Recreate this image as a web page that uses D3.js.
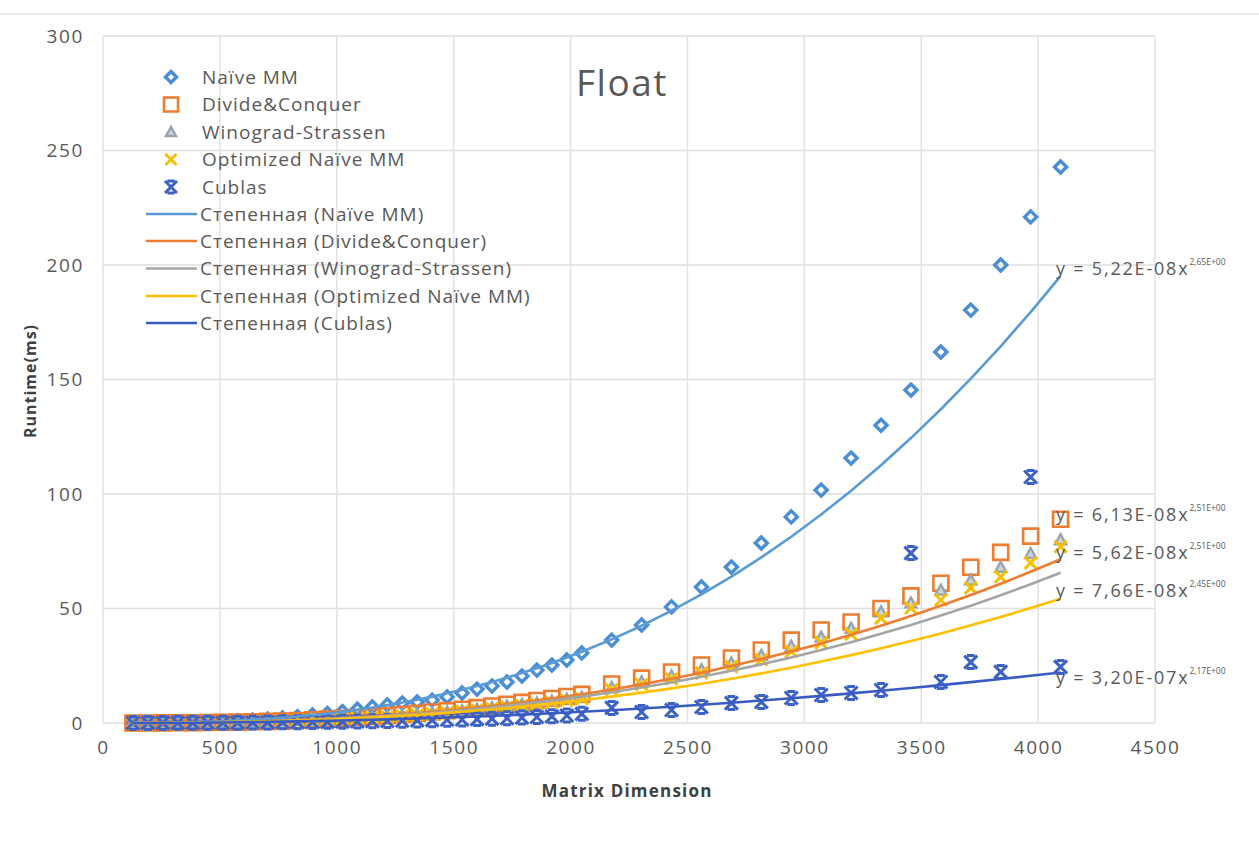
<!DOCTYPE html>
<html>
<head>
<meta charset="utf-8">
<script src="https://cdn.jsdelivr.net/npm/d3@7"></script>
<style>
  html, body { margin: 0; padding: 0; background: #ffffff; }
  svg { display: block; font-family: "Open Sans", "Noto Sans", sans-serif; }
</style>
</head>
<body>
<svg id="chart" width="1259" height="844"></svg>
<script>
// Matrix dimensions (step 64 up to 2048, then step 128)
const dims = [128, 192, 256, 320, 384, 448, 512, 576, 640, 704, 768, 832, 896, 960, 1024,
  1088, 1152, 1216, 1280, 1344, 1408, 1472, 1536, 1600, 1664, 1728, 1792, 1856, 1920, 1984, 2048,
  2176, 2304, 2432, 2560, 2688, 2816, 2944, 3072, 3200, 3328, 3456, 3584, 3712, 3840, 3968, 4096];

// Runtime in ms for each algorithm
const naiveMM = [0.02, 0.05, 0.1, 0.18, 0.3, 0.48, 0.7, 0.95, 1.3, 1.7, 2.2, 2.8, 3.5, 4.2, 5.0,
  6.0, 7.0, 7.9, 8.7, 9.2, 10.0, 11.4, 13.1, 14.8, 16.2, 17.9, 20.5, 23.1, 25.3, 27.5, 30.6,
  36.2, 42.8, 50.7, 59.4, 68.1, 78.6, 90.0, 101.7, 115.7, 130.0, 145.4, 162.0, 180.3, 200.0, 221.0, 242.8];
const divideConquer = [0.01, 0.03, 0.05, 0.09, 0.14, 0.2, 0.3, 0.4, 0.55, 0.7, 0.9, 1.1, 1.4, 1.7, 2.0,
  2.4, 2.8, 3.2, 3.7, 4.2, 4.8, 5.4, 6.0, 6.7, 7.4, 8.2, 9.0, 9.8, 10.7, 11.6, 12.5,
  17.0, 19.6, 22.3, 25.3, 28.4, 31.9, 36.2, 40.6, 44.1, 50.0, 55.5, 61.0, 68.0, 74.5, 81.6, 89.0];
const winogradStrassen = [0.01, 0.02, 0.04, 0.08, 0.12, 0.18, 0.27, 0.36, 0.5, 0.63, 0.8, 1.0, 1.25, 1.5, 1.8,
  2.15, 2.5, 2.9, 3.35, 3.8, 4.3, 4.85, 5.4, 6.0, 6.7, 7.4, 8.1, 8.8, 9.6, 10.4, 11.2,
  15.5, 18.0, 20.5, 23.3, 26.2, 29.5, 33.5, 37.5, 41.3, 48.5, 52.4, 58.0, 62.4, 68.0, 74.0, 80.0];
const optimizedNaive = [0.01, 0.02, 0.04, 0.07, 0.11, 0.16, 0.24, 0.33, 0.45, 0.58, 0.74, 0.92, 1.15, 1.4, 1.68,
  2.0, 2.35, 2.72, 3.15, 3.6, 4.05, 4.55, 5.1, 5.7, 6.3, 6.95, 7.6, 8.3, 9.05, 9.8, 10.6,
  14.5, 16.8, 19.2, 21.8, 24.6, 27.6, 31.2, 35.0, 38.8, 45.8, 50.2, 53.7, 59.0, 63.8, 69.9, 77.0];
const cublas = [0.02, 0.03, 0.04, 0.06, 0.08, 0.1, 0.13, 0.16, 0.2, 0.25, 0.3, 0.36, 0.43, 0.5, 0.58,
  0.67, 0.77, 0.88, 1.0, 1.12, 1.25, 1.4, 1.55, 1.7, 1.9, 2.1, 2.35, 2.6, 2.9, 3.3, 4.0,
  6.6, 4.8, 5.7, 7.0, 8.7, 9.2, 10.9, 12.2, 13.1, 14.4, 74.2, 17.9, 26.6, 22.3, 107.4, 24.5];

// Power trendline coefficients y = a * x^b
const trendA = [5.22e-8, 6.13e-8, 5.62e-8, 7.66e-8, 3.20e-7];
const trendB = [2.65, 2.51, 2.51, 2.45, 2.17];
const trendText = ["5,22E-08", "6,13E-08", "5,62E-08", "7,66E-08", "3,20E-07"];
const trendExpText = ["2,65E+00", "2,51E+00", "2,51E+00", "2,45E+00", "2,17E+00"];

const seriesNames = ["Naïve MM", "Divide&Conquer", "Winograd-Strassen", "Optimized Naïve MM", "Cublas"];
const trendNames = ["Степенная (Naïve MM)", "Степенная (Divide&Conquer)", "Степенная (Winograd-Strassen)",
  "Степенная (Optimized Naïve MM)", "Степенная (Cublas)"];

const xTicks = [0, 500, 1000, 1500, 2000, 2500, 3000, 3500, 4000, 4500];
const yTicks = [0, 50, 100, 150, 200, 250, 300];

const markerColors = ["#4A8ED6", "#ED7D31", "#9AA3AE", "#F5C000", "#3D62C6"];
const trendColors = ["#5B9BD5", "#ED7D31", "#A5A5A5", "#FFC000", "#3A5CC2"];

const values = [naiveMM, divideConquer, winogradStrassen, optimizedNaive, cublas];
const shapes = ["diamond", "square", "triangle", "x", "star"];

const svg = d3.select("#chart");
const x = d3.scaleLinear().domain([0, 4500]).range([103, 1155]);
const y = d3.scaleLinear().domain([0, 300]).range([723, 36]);

// faint outer frame of the chart area
svg.append("line").attr("x1", 0).attr("x2", 1259).attr("y1", 14).attr("y2", 14)
  .attr("stroke", "#e4e4e4").attr("stroke-width", 1.5);

// gridlines
const grid = svg.append("g");
grid.selectAll("line.h").data(yTicks).join("line")
  .attr("x1", x(0)).attr("x2", x(4500))
  .attr("y1", d => y(d)).attr("y2", d => y(d))
  .attr("stroke", "#dedede").attr("stroke-width", 1.5);
grid.selectAll("line.v").data(xTicks).join("line")
  .attr("y1", y(0)).attr("y2", y(300))
  .attr("x1", d => x(d)).attr("x2", d => x(d))
  .attr("stroke", "#e3e3e3").attr("stroke-width", 1.5);

// axes (labels only, no domain lines)
const xAxis = svg.append("g").attr("transform", `translate(0,${y(0) + 14})`)
  .call(d3.axisBottom(x).tickValues(xTicks).tickSize(0).tickFormat(d3.format("d")));
const yAxis = svg.append("g").attr("transform", `translate(${x(0) - 16},0)`)
  .call(d3.axisLeft(y).tickValues(yTicks).tickSize(0).tickFormat(d3.format("d")));
[xAxis, yAxis].forEach(g => {
  g.select(".domain").remove();
  g.selectAll("text").attr("fill", "#595959").style("font-size", "19px")
    .style("letter-spacing", "1.6px")
    .style("font-family", "'Open Sans', sans-serif");
});

// marker symbol paths
function markerPath(shape, s) {
  const h = s / 2;
  switch (shape) {
    case "diamond": return `M0,${-h}L${h},0L0,${h}L${-h},0Z`;
    case "square": return `M${-h},${-h}H${h}V${h}H${-h}Z`;
    case "triangle": return `M0,${-h}L${h},${h * 0.8}H${-h}Z`;
    case "x": return `M${-h},${-h}L${h},${h}M${h},${-h}L${-h},${h}`;
    case "star": return `M${-h},${-h}L${h},${h}M${h},${-h}L${-h},${h}M${-h * 0.6},${-h}H${h * 0.6}M${-h * 0.6},${h}H${h * 0.6}`;
  }
}
const markerSize = [12, 15, 11, 12, 13];
const markerStroke = [3.4, 2.6, 2.4, 3, 3];

const plot = svg.append("g");
values.forEach((vals, i) => {
  const g = plot.append("g");
  g.selectAll("path").data(dims.map((d, k) => [d, vals[k]])).join("path")
    .attr("transform", d => `translate(${x(d[0])},${y(d[1])})`)
    .attr("d", markerPath(shapes[i], markerSize[i]))
    .attr("fill", shapes[i] === "triangle" ? "#c9d3de" : "none")
    .attr("stroke", markerColors[i])
    .attr("stroke-width", markerStroke[i])
    .attr("stroke-linejoin", "miter");
});

// power trendlines evaluated from the fitted coefficients
const line = d3.line().x(d => x(d[0])).y(d => y(d[1]));
trendA.forEach((a, i) => {
  const pts = dims.map(d => [d, a * Math.pow(d, trendB[i])]);
  plot.append("path").datum(pts)
    .attr("d", line)
    .attr("fill", "none")
    .attr("stroke", trendColors[i])
    .attr("stroke-width", 2.6);
});

// trendline equations
const eqY = [275, 521, 559, 597, 684];
trendA.forEach((a, i) => {
  const t = svg.append("text")
    .attr("x", 1056).attr("y", eqY[i])
    .attr("fill", "#595959")
    .style("font-size", "18px").style("letter-spacing", "1.8px");
  t.append("tspan").text(`y = ${trendText[i]}x`);
  t.append("tspan").attr("dy", -10).style("font-size", "8.5px").style("letter-spacing", "0px")
    .text(trendExpText[i]);
});

// title
svg.append("text").attr("x", 622).attr("y", 96)
  .attr("text-anchor", "middle").attr("fill", "#595959")
  .style("font-size", "37px").style("letter-spacing", "1.5px").text("Float");

// axis titles
svg.append("text").attr("x", 627).attr("y", 797)
  .attr("text-anchor", "middle").attr("fill", "#404040")
  .style("font-size", "17px").style("font-weight", "bold").style("letter-spacing", "1.2px")
  .text("Matrix Dimension");
svg.append("text").attr("transform", "translate(36,381) rotate(-90)")
  .attr("text-anchor", "middle").attr("fill", "#404040")
  .style("font-size", "16px").style("font-weight", "bold").style("letter-spacing", "1px")
  .text("Runtime(ms)");

// legend
const legend = svg.append("g");
const rowY = [77, 104.5, 132, 159.5, 187, 214, 241, 268.5, 296, 323];
seriesNames.forEach((name, i) => {
  legend.append("path")
    .attr("transform", `translate(171,${rowY[i]})`)
    .attr("d", markerPath(shapes[i], markerSize[i] - 1))
    .attr("fill", shapes[i] === "triangle" ? "#c9d3de" : "none")
    .attr("stroke", markerColors[i]).attr("stroke-width", markerStroke[i]);
  legend.append("text").attr("x", 202).attr("y", rowY[i]).attr("dy", "0.35em")
    .attr("fill", "#595959").style("font-size", "19px").style("letter-spacing", "1px").text(name);
});
trendNames.forEach((name, i) => {
  const yy = rowY[i + 5];
  legend.append("line").attr("x1", 146).attr("x2", 197).attr("y1", yy).attr("y2", yy)
    .attr("stroke", trendColors[i]).attr("stroke-width", 2.6);
  legend.append("text").attr("x", 200).attr("y", yy).attr("dy", "0.35em")
    .attr("fill", "#595959").style("font-size", "19px").style("letter-spacing", "1px").text(name);
});
</script>
</body>
</html>
